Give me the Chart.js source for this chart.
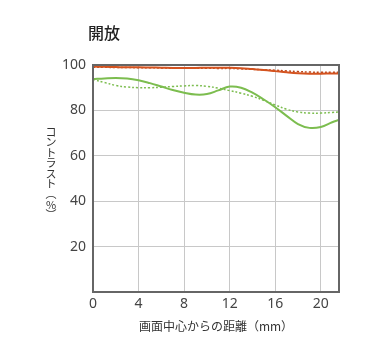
<!DOCTYPE html>
<html>
<head>
<meta charset="utf-8">
<script src="https://cdn.jsdelivr.net/npm/chart.js@4/dist/chart.umd.min.js"></script>
<style>
html,body{margin:0;padding:0;background:#fff;}
#wrap{width:367px;height:360px;position:relative;}
</style>
</head>
<body>
<div id="wrap"><canvas id="c" width="367" height="360"></canvas></div>
<script>
const chartTitle = "開放";
const xTitle = "画面中心からの距離（mm）";
const yTitleChars = ["コ", "ン", "ト", "ラ", "ス", "ト", "︵", "%", "︶"];
const xValues     = [0, 1, 2, 3, 4, 5, 6, 7, 8, 9, 10, 11, 12, 13, 14, 15, 16, 17, 18, 19, 20, 21, 21.6];
const greenSolid  = [93.8, 94.1, 94.3, 94.1, 93.3, 92.0, 90.5, 89.0, 87.8, 87.0, 87.2, 88.8, 90.5, 90.0, 87.8, 84.8, 81.4, 77.6, 74.0, 72.3, 72.7, 74.8, 75.8];
const greenDotted = [93.7, 92.3, 91.0, 90.3, 90.0, 90.0, 90.2, 90.5, 90.8, 91.0, 90.6, 89.8, 88.7, 87.6, 86.2, 84.4, 82.4, 80.5, 79.3, 78.8, 78.8, 79.1, 79.3];
const orangeSolid = [99.3, 99.2, 99.1, 99.0, 99.0, 98.9, 98.8, 98.7, 98.7, 98.7, 98.8, 98.8, 98.8, 98.6, 98.2, 97.8, 97.3, 96.8, 96.4, 96.2, 96.2, 96.3, 96.3];
const orangeDotted= [99.0, 99.0, 98.9, 98.9, 98.8, 98.8, 98.7, 98.6, 98.6, 98.6, 98.6, 98.5, 98.5, 98.3, 98.1, 97.9, 97.7, 97.4, 97.1, 96.9, 96.8, 96.8, 96.8];
const xTicks = [0, 4, 8, 12, 16, 20];
const yTicks = [0, 20, 40, 60, 80, 100];

const toPts = (ys) => xValues.map((x, i) => ({x: x, y: ys[i]}));
const GREEN = "#7cbd4f";
const ORANGE = "#d4531f";

const framePlugin = {
  id: "frame",
  afterDatasetsDraw(chart) {
    const {ctx, chartArea: a} = chart;
    ctx.save();
    ctx.strokeStyle = "#666";
    ctx.lineWidth = 2;
    ctx.strokeRect(a.left, a.top, a.right - a.left, a.bottom - a.top);
    ctx.restore();
  },
  afterDraw(chart) {
    const ctx = chart.ctx;
    const a = chart.chartArea;
    ctx.save();
    ctx.fillStyle = "#222";
    ctx.font = "500 16px 'Noto Sans CJK JP'";
    ctx.textBaseline = "middle";
    ctx.textAlign = "left";
    ctx.fillText(chartTitle, 88, 33);
    // vertical (tategaki) y-axis title, centred on the plot area
    ctx.fillStyle = "#333";
    ctx.font = "11px 'Noto Sans CJK JP'";
    ctx.textAlign = "center";
    const step = 10.4;
    const mid = (a.top + a.bottom) / 2 - 5;
    const start = mid - step * (yTitleChars.length - 1) / 2;
    yTitleChars.forEach((ch, i) => ctx.fillText(ch, 51, start + i * step));
    ctx.restore();
  }
};

new Chart(document.getElementById("c"), {
  type: "line",
  data: {
    datasets: [
      {data: toPts(orangeSolid), borderColor: ORANGE, borderWidth: 2, pointRadius: 0, tension: 0.4, fill: false},
      {data: toPts(orangeDotted), borderColor: "#b8461c", borderWidth: 1.5, borderDash: [2, 2], pointRadius: 0, tension: 0.4, fill: false},
      {data: toPts(greenSolid), borderColor: GREEN, borderWidth: 2, pointRadius: 0, tension: 0.4, fill: false},
      {data: toPts(greenDotted), borderColor: GREEN, borderWidth: 1.5, borderDash: [2, 2], pointRadius: 0, tension: 0.4, fill: false}
    ]
  },
  options: {
    responsive: false,
    animation: false,
    layout: {padding: {left: 0, right: 28, top: 65, bottom: 0}},
    plugins: {legend: {display: false}, tooltip: {enabled: false}, title: {display: false}},
    scales: {
      x: {
        type: "linear",
        min: 0, max: 21.6,
        afterFit: (s) => { s.height = 68; },
        afterBuildTicks: (s) => { s.ticks = xTicks.map(v => ({value: v})); },
        grid: {color: "#c8c8c8", lineWidth: 1, drawTicks: false},
        border: {display: false},
        ticks: {padding: 4, color: "#444", font: {family: "'Noto Sans'", size: 14}},
        title: {display: true, text: xTitle, color: "#333", font: {family: "'Noto Sans CJK JP'", size: 12}, padding: {top: 0, bottom: 26}}
      },
      y: {
        type: "linear",
        min: 0, max: 100,
        afterFit: (s) => { s.width = 93; },
        afterBuildTicks: (s) => { s.ticks = yTicks.filter(v => v > 0).map(v => ({value: v})); },
        grid: {color: "#c8c8c8", lineWidth: 1, drawTicks: false},
        border: {display: false},
        ticks: {padding: 7, color: "#444", font: {family: "'Noto Sans'", size: 14}},
        title: {display: false}
      }
    }
  },
  plugins: [framePlugin]
});
</script>
</body>
</html>
